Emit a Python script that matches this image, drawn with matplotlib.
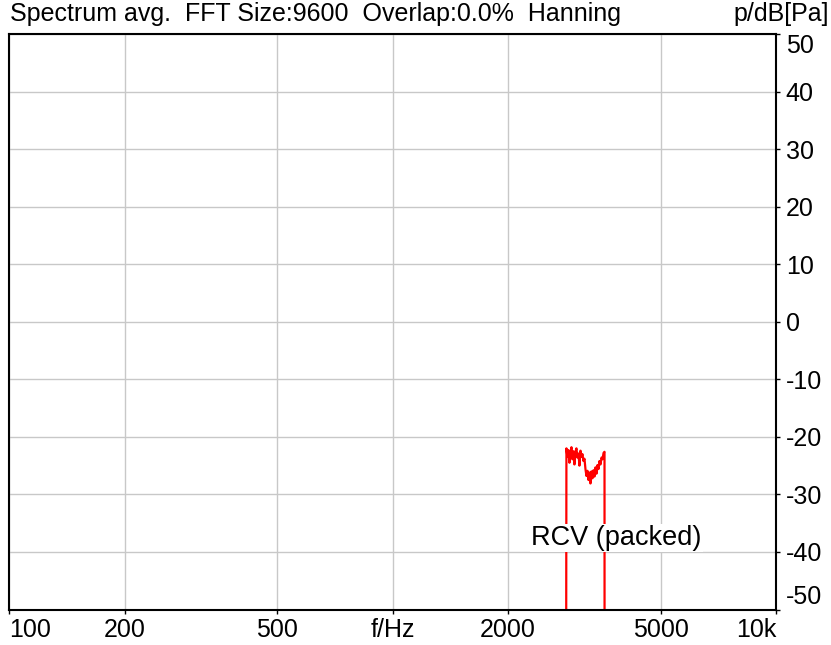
import matplotlib
matplotlib.use("Agg")
import matplotlib.pyplot as plt

plt.rcParams['font.family'] = ['Liberation Sans', 'DejaVu Sans']

# Spectrum data (Hz, dB)
freqs = [2830, 2840, 2857, 2874, 2892, 2909, 2927, 2944, 2962, 2980, 2998, 3016,
         3034, 3053, 3071, 3090, 3108, 3127, 3146, 3165, 3184, 3203, 3223, 3242,
         3262, 3281, 3301, 3321, 3341, 3361, 3382, 3402, 3423, 3443, 3464, 3485,
         3506, 3527, 3549, 3570, 3572]
levels = [-100, -22.0, -23.5, -22.3, -24.5, -22.8, -21.8, -23.9, -22.5, -24.8, -22.6, -22.0,
          -23.6, -22.9, -25.0, -22.4, -23.5, -23.0, -24.2, -23.8, -25.6, -26.8, -25.9, -27.5,
          -26.2, -28.1, -26.0, -27.2, -25.8, -26.9, -25.3, -26.4, -24.9, -25.6, -24.2, -24.8,
          -23.6, -23.9, -22.8, -22.6, -100]

x_ticks = [100, 200, 500, 1000, 2000, 5000, 10000]
x_labels = ['100', '200', '500', 'f/Hz', '2000', '5000', '10k']
y_ticks = [-50, -40, -30, -20, -10, 0, 10, 20, 30, 40, 50]
y_labels = ['-50', '-40', '-30', '-20', '-10', '0', '10', '20', '30', '40', '50']

fig = plt.figure(figsize=(8.31, 6.45), dpi=100)
ax = fig.add_axes([9.3 / 831, 1 - 609.5 / 645, (776 - 9.3) / 831, (609.5 - 34) / 645])

ax.plot(freqs, levels, color='#ff0000', lw=1.6)

ax.set_xscale('log')
ax.set_xlim(100, 10000)
ax.set_ylim(-50, 50)
ax.set_xticks(x_ticks)
ax.set_xticklabels(x_labels)
ax.xaxis.set_minor_locator(matplotlib.ticker.NullLocator())
ax.set_yticks(y_ticks)
ax.set_yticklabels(y_labels)
ax.yaxis.tick_right()
ax.grid(True, color='#c8c8c8', lw=1)
ax.set_axisbelow(True)
for s in ax.spines.values():
    s.set_linewidth(1.5)
    s.set_color('black')
ax.tick_params(axis='both', direction='out', length=3, width=1, labelsize=18, colors='black')
ax.tick_params(axis='x', pad=3)
ax.tick_params(axis='y', pad=4)

xl = ax.get_xticklabels()
xl[0].set_ha('left')
xl[-1].set_ha('right')
yl = ax.get_yticklabels()
yl[0].set_va('bottom')
yl[-1].set_va('top')

ax.text(3830, -37.6, 'RCV (packed)', fontsize=19.5, ha='center', va='center',
        bbox=dict(facecolor='white', edgecolor='none', pad=1))

fig.text(10 / 831, 1 - 14 / 645, 'Spectrum avg.  FFT Size:9600  Overlap:0.0%  Hanning',
         fontsize=18, ha='left', va='center')
fig.text(829 / 831, 1 - 14 / 645, 'p/dB[Pa]', fontsize=18, ha='right', va='center')

fig.savefig('out.png', dpi=100)
